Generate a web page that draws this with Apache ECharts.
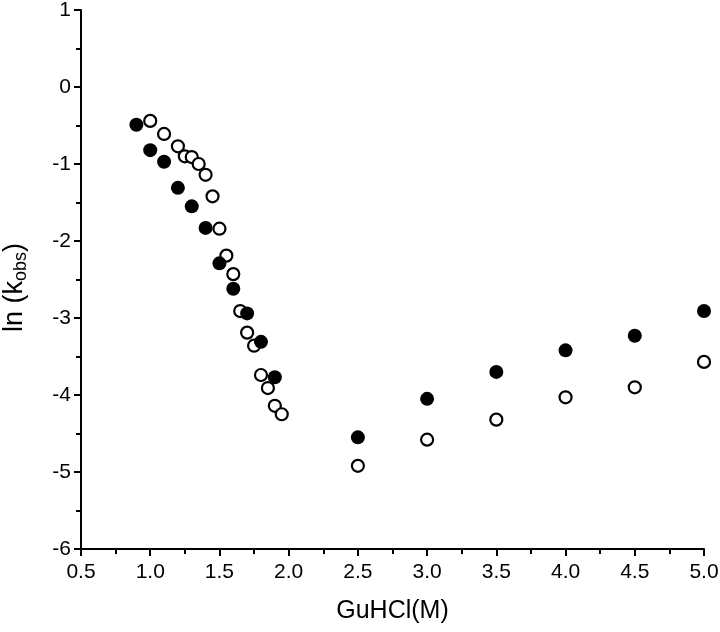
<!DOCTYPE html>
<html>
<head>
<meta charset="utf-8">
<script src="https://cdn.jsdelivr.net/npm/echarts@6/dist/echarts.min.js"></script>
<style>html,body{margin:0;padding:0;background:#fff}#c{width:720px;height:632px}</style>
</head>
<body>
<div id="c"></div>
<script>
// Filled circles
var filledX = [0.9, 1.0, 1.1, 1.2, 1.3, 1.4, 1.5, 1.6, 1.7, 1.8, 1.9, 2.5, 3.0, 3.5, 4.0, 4.5, 5.0];
var filledY = [-0.49, -0.82, -0.97, -1.31, -1.55, -1.83, -2.29, -2.62, -2.94, -3.31, -3.77, -4.55, -4.05, -3.70, -3.42, -3.23, -2.91];
// Open circles
var openX = [1.0, 1.1, 1.2, 1.25, 1.3, 1.35, 1.4, 1.45, 1.5, 1.55, 1.6, 1.65, 1.7, 1.75, 1.8, 1.85, 1.9, 1.95, 2.5, 3.0, 3.5, 4.0, 4.5, 5.0];
var openY = [-0.44, -0.61, -0.77, -0.90, -0.91, -1.00, -1.14, -1.42, -1.84, -2.19, -2.43, -2.91, -3.19, -3.36, -3.74, -3.91, -4.14, -4.25, -4.92, -4.58, -4.32, -4.03, -3.90, -3.57];

function pairs(xs, ys) { return xs.map(function (x, i) { return [x, ys[i]]; }); }

var font = '"Liberation Sans", Arial, sans-serif';
var chart = echarts.init(document.getElementById('c'), null, { renderer: 'canvas' });
chart.setOption({
  animation: false,
  backgroundColor: '#fff',
  grid: { left: 81, right: 16, top: 10, bottom: 83, containLabel: false, outerBoundsMode: 'none' },
  xAxis: {
    type: 'value', min: 0.5, max: 5.0, interval: 0.5,
    name: 'GuHCl(M)', nameLocation: 'middle', nameGap: 50,
    nameTextStyle: { fontFamily: font, fontSize: 25, color: '#000' },
    axisLine: { show: true, onZero: false, lineStyle: { color: '#000', width: 2 } },
    axisTick: { show: true, inside: false, length: 7, lineStyle: { color: '#000', width: 2 } },
    minorTick: { show: true, splitNumber: 2, length: 5, lineStyle: { color: '#000', width: 2 } },
    splitLine: { show: false },
    axisLabel: { fontFamily: font, fontSize: 21, color: '#000', margin: 13, formatter: function (v) { return v.toFixed(1); } }
  },
  yAxis: {
    type: 'value', min: -6, max: 1, interval: 1,
    name: '{a|ln (k}{b|obs}{a|)}', nameLocation: 'middle', nameGap: 51, nameRotate: 90,
    nameTextStyle: {
      fontFamily: font, color: '#000', padding: [0, 16, 0, 0],
      rich: {
        a: { fontFamily: font, fontSize: 27, color: '#000' },
        b: { fontFamily: font, fontSize: 18, color: '#000', verticalAlign: 'bottom', padding: [12, 0, 0, 0] }
      }
    },
    axisLine: { show: true, onZero: false, lineStyle: { color: '#000', width: 2 } },
    axisTick: { show: true, inside: false, length: 7, lineStyle: { color: '#000', width: 2 } },
    minorTick: { show: true, splitNumber: 2, length: 5, lineStyle: { color: '#000', width: 2 } },
    splitLine: { show: false },
    axisLabel: { fontFamily: font, fontSize: 21, color: '#000', margin: 10 }
  },
  series: [
    {
      type: 'scatter', name: 'open', data: pairs(openX, openY),
      symbol: 'circle', symbolSize: 12, z: 2,
      itemStyle: { color: '#fff', borderColor: '#000', borderWidth: 2.2, opacity: 1 }
    },
    {
      type: 'scatter', name: 'filled', data: pairs(filledX, filledY),
      symbol: 'circle', symbolSize: 14, z: 3,
      itemStyle: { color: '#000', borderColor: '#000', borderWidth: 0, opacity: 1 }
    }
  ]
});
</script>
</body>
</html>
